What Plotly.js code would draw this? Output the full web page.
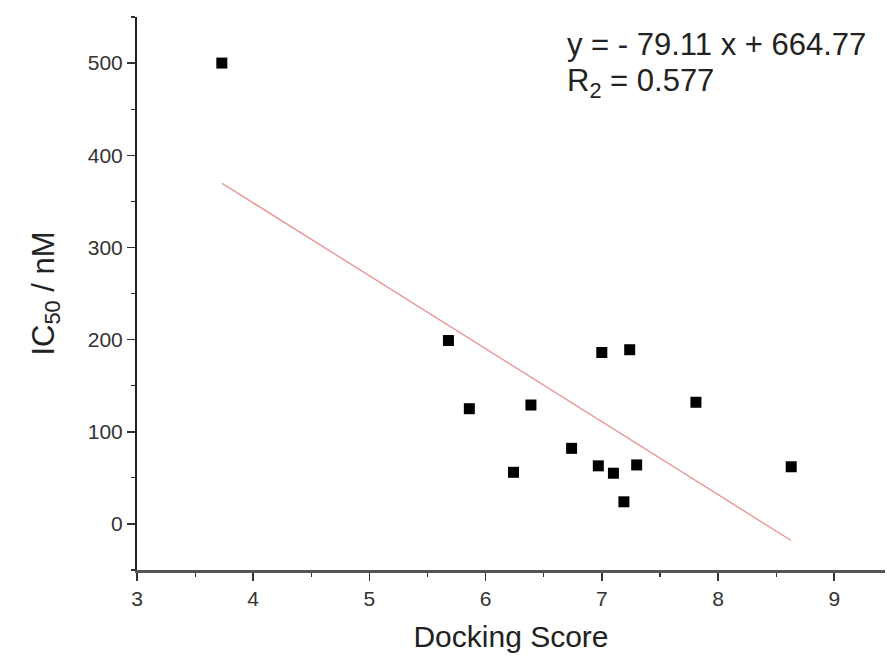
<!DOCTYPE html>
<html>
<head>
<meta charset="utf-8">
<script src="https://cdn.plot.ly/plotly-3.0.1.min.js"></script>
<style>html,body{margin:0;padding:0;background:#fff;}#chart{width:887px;height:660px;}</style>
</head>
<body>
<div id="chart"></div>
<script>
// Data
const dockingScore = [3.73, 5.68, 5.86, 6.24, 6.39, 6.74, 6.97, 7.00, 7.10, 7.19, 7.24, 7.30, 7.81, 8.63];
const ic50 = [500, 199, 125, 56, 129, 82, 63, 186, 55, 24, 189, 64, 132, 62];
// Fitted line end points (as drawn in the picture)
const fitX = [3.73, 8.63];
const fitY = [369.7, -18.0];
const equationText = "y = - 79.11 x + 664.77";
const r2Text = "R<sub>2</sub> = 0.577";
const xTickVals = [3, 4, 5, 6, 7, 8, 9];
const yTickVals = [0, 100, 200, 300, 400, 500];

const font = "Liberation Sans, Arial, sans-serif";

const traces = [
  {
    x: fitX, y: fitY, type: "scatter", mode: "lines",
    line: {color: "#ea8f8f", width: 1.3},
    hoverinfo: "skip", showlegend: false
  },
  {
    x: dockingScore, y: ic50, type: "scatter", mode: "markers",
    marker: {symbol: "square", size: 11, color: "#000"},
    showlegend: false
  }
];

const layout = {
  width: 887, height: 660,
  margin: {l: 137, r: 2, t: 17, b: 90},
  paper_bgcolor: "#fff", plot_bgcolor: "#fff",
  font: {family: font, color: "#222"},
  showlegend: false,
  xaxis: {
    range: [3, 9.437], tickvals: xTickVals, ticks: "outside", ticklen: 8, tickwidth: 1.5,
    tickcolor: "#333", showline: true, linecolor: "#555", linewidth: 2.5,
    showgrid: false, zeroline: false, tickfont: {size: 21, color: "#333"},
    minor: {dtick: 0.5, tick0: 3, ticks: "outside", ticklen: 4, tickcolor: "#333", tickwidth: 1.2, showgrid: false},
    title: {text: "Docking Score", font: {size: 30, color: "#222"}, standoff: 18}
  },
  yaxis: {
    range: [-50, 550], tickvals: yTickVals, ticks: "outside", ticklen: 8, tickwidth: 1.5,
    tickcolor: "#333", showline: true, linecolor: "#222", linewidth: 2,
    showgrid: false, zeroline: false, tickfont: {size: 21, color: "#333"},
    minor: {dtick: 50, tick0: -50, ticks: "outside", ticklen: 4, tickcolor: "#333", tickwidth: 1.2, showgrid: false},
    title: {text: "IC<sub>50</sub> / nM", font: {size: 31, color: "#222"}, standoff: 24}
  },
  annotations: [
    {xref: "paper", yref: "paper", x: 0.572, y: 0.951, xanchor: "left", yanchor: "middle",
     text: equationText, showarrow: false, font: {size: 31, color: "#222"}},
    {xref: "paper", yref: "paper", x: 0.572, y: 0.881, xanchor: "left", yanchor: "middle",
     text: r2Text, showarrow: false, font: {size: 31, color: "#222"}}
  ]
};

Plotly.newPlot("chart", traces, layout, {displayModeBar: false, staticPlot: true});
</script>
</body>
</html>
